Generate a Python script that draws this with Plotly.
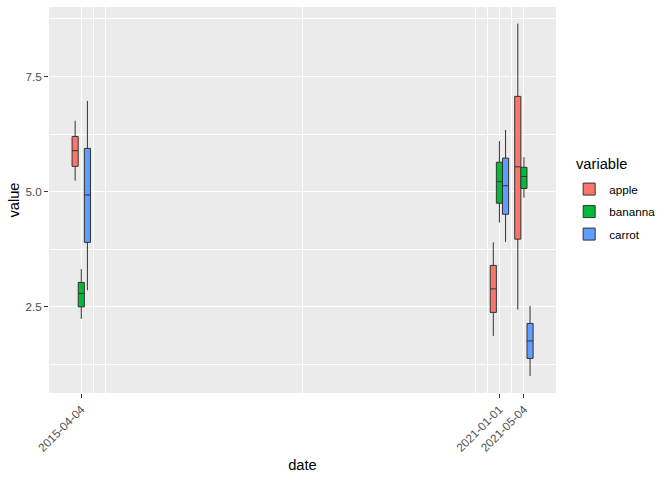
import plotly.graph_objects as go

dates = ["2015-04-04", "2021-01-01", "2021-05-04"]
variables = ["apple", "bananna", "carrot"]
colors = ["#F8766D", "#00BA38", "#619CFF"]

# per variable: lower whisker, q1, median, q3, upper whisker for each date
apple_low = [5.24, 1.87, 2.44]
apple_q1 = [5.55, 2.38, 3.97]
apple_med = [5.89, 2.89, 5.54]
apple_q3 = [6.20, 3.40, 7.07]
apple_high = [6.54, 3.90, 8.65]

banana_low = [2.24, 4.33, 4.87]
banana_q1 = [2.50, 4.75, 5.07]
banana_med = [2.79, 5.22, 5.33]
banana_q3 = [3.03, 5.64, 5.53]
banana_high = [3.32, 6.10, 5.75]

carrot_low = [2.86, 3.91, 1.00]
carrot_q1 = [3.90, 4.51, 1.38]
carrot_med = [4.93, 5.13, 1.76]
carrot_q3 = [5.94, 5.73, 2.14]
carrot_high = [6.97, 6.34, 2.52]

stats = {
    "apple": (apple_low, apple_q1, apple_med, apple_q3, apple_high),
    "bananna": (banana_low, banana_q1, banana_med, banana_q3, banana_high),
    "carrot": (carrot_low, carrot_q1, carrot_med, carrot_q3, carrot_high),
}

x_minor = ["2015-06-05", "2015-08-02", "2018-04-16", "2020-09-01", "2020-11-02", "2021-03-03"]
y_ticks = [2.5, 5.0, 7.5]
y_minor = [1.25, 3.75, 6.25, 8.75]

fig = go.Figure()
for var, col in zip(variables, colors):
    lo, q1, med, q3, hi = stats[var]
    fig.add_trace(go.Box(
        x=dates, q1=q1, median=med, q3=q3, lowerfence=lo, upperfence=hi,
        name=var, legendgroup=var, fillcolor=col,
        line=dict(color="#333333", width=1),
        whiskerwidth=0, boxpoints=False,
    ))

font = "Liberation Sans, Arial, sans-serif"
fig.update_layout(
    width=672, height=480,
    margin=dict(l=49, r=115.5, t=7.3, b=87.3),
    paper_bgcolor="white", plot_bgcolor="#EBEBEB",
    boxmode="group", boxgap=0.25, boxgroupgap=0,
    font=dict(family=font, color="black"),
    showlegend=True,
    legend=dict(
        font=dict(size=11.7, color="black"),
        x=1.026, xanchor="left", y=0.47, yanchor="middle",
        bgcolor="rgba(0,0,0,0)", tracegroupgap=3.5, itemwidth=30,
    ),
    annotations=[dict(
        text="variable", xref="paper", yref="paper",
        x=(602.5 - 49) / 507.5, y=1 - (164 - 7.3) / 385.4,
        xanchor="center", yanchor="middle", showarrow=False,
        font=dict(size=14.7, color="black", family=font),
    )],
    xaxis=dict(
        type="date", range=["2014-10-24", "2021-10-12"],
        tickmode="array", tickvals=dates, ticktext=dates,
        tickangle=-45, tickfont=dict(size=11.7, color="#4D4D4D"),
        ticks="outside", ticklen=4, tickwidth=1, tickcolor="#333333",
        showgrid=True, gridcolor="white", gridwidth=1.3,
        minor=dict(tickmode="array", tickvals=x_minor, showgrid=True,
                   gridcolor="white", gridwidth=0.7, ticks=""),
        zeroline=False, showline=False,
        title=dict(text="date", font=dict(size=14.7, color="black"), standoff=6),
    ),
    yaxis=dict(
        range=[0.63, 9.01],
        tickmode="array", tickvals=y_ticks, ticktext=["2.5", "5.0", "7.5"],
        tickfont=dict(size=11.7, color="#4D4D4D"),
        ticks="outside", ticklen=4, tickwidth=1, tickcolor="#333333",
        showgrid=True, gridcolor="white", gridwidth=1.3,
        minor=dict(tickmode="array", tickvals=y_minor, showgrid=True,
                   gridcolor="white", gridwidth=0.7, ticks=""),
        zeroline=False, showline=False,
        title=dict(text="value", font=dict(size=14.7, color="black"), standoff=2),
    ),
)

fig.write_html("out.html")
